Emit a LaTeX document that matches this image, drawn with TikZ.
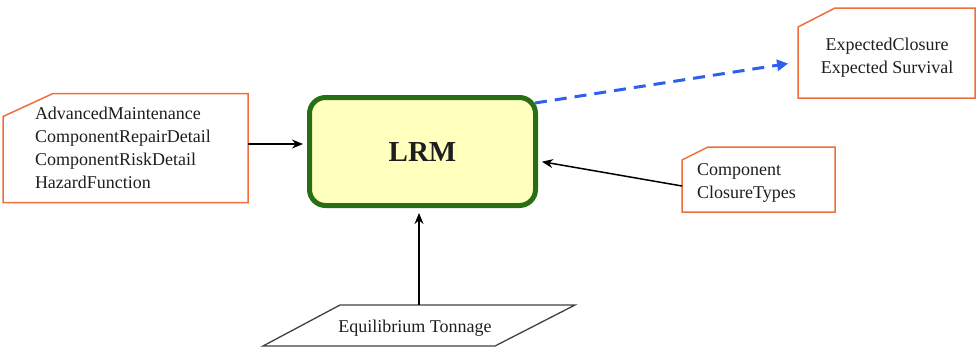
\documentclass[tikz,border=0pt]{standalone}
\usepackage{fontspec}
\setmainfont{Liberation Serif}
\usetikzlibrary{calc,arrows.meta}
\definecolor{boxorange}{RGB}{238,110,60}
\definecolor{lrmgreen}{RGB}{40,110,20}
\definecolor{lrmfill}{RGB}{255,255,190}
\definecolor{dashblue}{RGB}{45,95,240}
\definecolor{txt}{RGB}{30,30,30}
\tikzset{
  txtfont/.style={font=\fontsize{18pt}{23pt}\selectfont, text=txt},
  inbox/.style={txtfont, inner sep=0pt, outer sep=0pt},
  geom/.style={inner sep=0pt, outer sep=0pt},
  outline/.style={draw=boxorange, line width=1.5pt, line join=miter},
  conn/.style={draw=black, line width=1.5pt, -{Stealth[length=11pt,width=9pt]}},
  lrmbox/.style={draw=lrmgreen, fill=lrmfill, line width=5pt, rounded corners=16pt,
     minimum width=226pt, minimum height=108pt, inner sep=0pt,
     font=\fontsize{29pt}{32pt}\selectfont\bfseries, text=txt},
}
\begin{document}
\begin{tikzpicture}[x=1pt,y=-1pt]
\useasboundingbox (0,0) rectangle (977,349);

% LRM
\node[lrmbox] (lrm) at (422.5,151.5) {LRM};

% left box
\node[geom, minimum width=245pt, minimum height=109pt] (adv) at (125.5,148) {};
\node[inbox, text width=181pt, align=left] (advtext) at (125.5,148)
  {AdvancedMaintenance\\ComponentRepairDetail\\ComponentRiskDetail\\HazardFunction};
\draw[outline] ($(adv.north west)+(0,23)$) -- ($(adv.north west)+(50,0)$) -- (adv.north east)
  -- (adv.south east) -- (adv.south west) -- cycle;

% top right box
\node[geom, minimum width=177pt, minimum height=90pt] (exp) at (886.5,53) {};
\node[inbox, align=center] (exptext) at (887,57.5) {ExpectedClosure\\Expected Survival};
\draw[outline] ($(exp.north west)+(0,19)$) -- ($(exp.north west)+(37,0)$) -- (exp.north east)
  -- (exp.south east) -- (exp.south west) -- cycle;

% component box
\node[geom, minimum width=153pt, minimum height=65pt] (comp) at (758.5,179.5) {};
\node[inbox, text width=123pt, align=left] (comptext) at (758.5,183)
  {Component\\ClosureTypes};
\draw[outline] ($(comp.north west)+(0,13)$) -- ($(comp.north west)+(26,0)$) -- (comp.north east)
  -- (comp.south east) -- (comp.south west) -- cycle;

% parallelogram (data)
\node[geom, minimum width=312pt, minimum height=41pt] (eq) at (419,325.5) {};
\node[inbox] (eqtext) at (415,328) {Equilibrium Tonnage};
\draw[draw=black!75, line width=1.3pt, line join=miter]
  ($(eq.north west)+(77,0)$) -- (eq.north east) -- ($(eq.south east)+(-80,0)$)
  -- (eq.south west) -- cycle;

% connectors
\draw[conn, shorten >=4pt] ([yshift=4pt]adv.east) -- ([yshift=4pt]adv.east -| lrm.west);
\draw[conn, shorten >=4pt] ([yshift=-6.5pt]comp.west) -- ([yshift=-9.5pt]lrm.east);
\draw[conn, shorten >=5pt] (eq.north) -- (eq.north |- lrm.south);
\draw[dashblue, line width=3pt, dash pattern=on 12pt off 8pt,
  -{Triangle[length=11pt,width=11pt]}, shorten >=10pt]
  ([xshift=-3pt,yshift=-8pt]lrm.north east) -- ([yshift=-9pt]exp.west);
\end{tikzpicture}
\end{document}
